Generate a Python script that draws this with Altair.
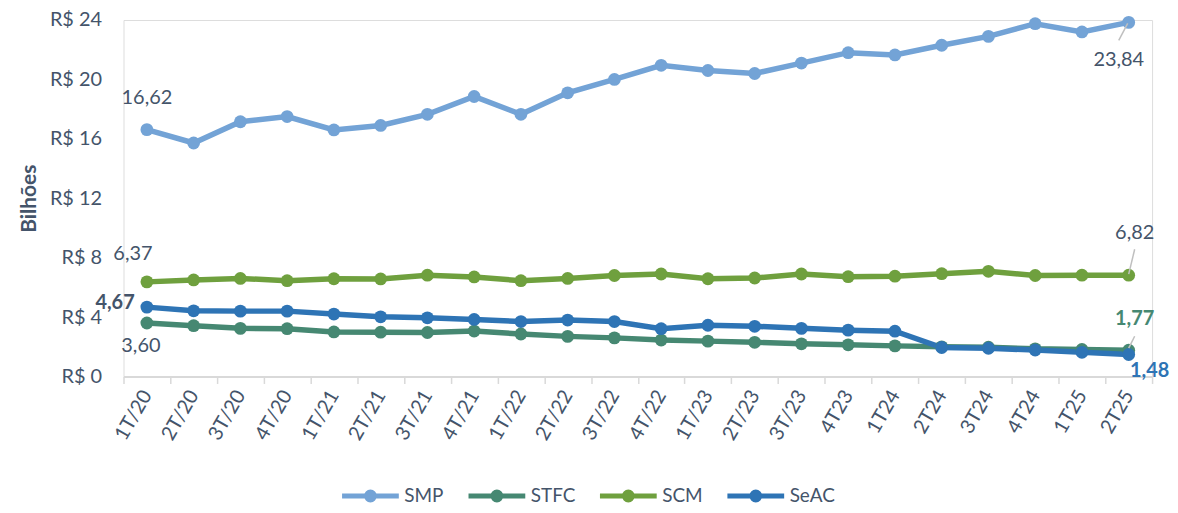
import altair as alt
import pandas as pd

quarters = ["1T/20", "2T/20", "3T/20", "4T/20", "1T/21", "2T/21", "3T/21", "4T/21",
            "1T/22", "2T/22", "3T/22", "4T/22", "1T/23", "2T/23", "3T/23", "4T23",
            "1T24", "2T24", "3T24", "4T24", "1T25", "2T25"]
series = ["SMP", "STFC", "SCM", "SeAC"]
smp = [16.62, 15.72, 17.15, 17.50, 16.60, 16.90, 17.65, 18.85, 17.65, 19.10, 20.00,
       20.95, 20.60, 20.40, 21.10, 21.80, 21.65, 22.30, 22.90, 23.75, 23.20, 23.84]
stfc = [3.60, 3.42, 3.24, 3.22, 3.00, 2.98, 2.96, 3.06, 2.86, 2.70, 2.60,
        2.45, 2.38, 2.30, 2.20, 2.13, 2.06, 2.00, 1.97, 1.86, 1.82, 1.77]
scm = [6.37, 6.50, 6.60, 6.45, 6.58, 6.57, 6.82, 6.70, 6.45, 6.60, 6.80,
       6.90, 6.58, 6.63, 6.90, 6.72, 6.75, 6.92, 7.08, 6.80, 6.82, 6.82]
seac = [4.67, 4.42, 4.40, 4.40, 4.20, 4.02, 3.95, 3.84, 3.70, 3.80, 3.70,
        3.22, 3.45, 3.38, 3.24, 3.12, 3.05, 1.95, 1.90, 1.78, 1.63, 1.48]
colors = ["#73A3D6", "#468872", "#6FA03E", "#2E74B5"]
y_ticks = [0, 4, 8, 12, 16, 20, 24]

# data labels: series, quarter, text
lab_series = ["SMP", "SMP", "SCM", "SCM", "SeAC", "STFC", "STFC", "SeAC"]
lab_quarter = ["1T/20", "2T25", "1T/20", "2T25", "1T/20", "1T/20", "2T25", "2T25"]
lab_text = ["16,62", "23,84", "6,37", "6,82", "4,67", "3,60", "1,77", "1,48"]

TXT = "#44546A"
FONT = "Lato"
values_by_series = dict(zip(series, [smp, stfc, scm, seac]))

rows = []
for s in series:
    for q, v in zip(quarters, values_by_series[s]):
        rows.append({"q": q, "s": s, "v": v})
df = pd.DataFrame(rows)

x = alt.X("q:N", sort=quarters, bandPosition=0.5,
          scale=alt.Scale(type="band", paddingInner=0, paddingOuter=0),
          axis=alt.Axis(title=None, tickBand="extent", labelAngle=-60, labelAlign="right",
                        labelBaseline="middle", labelFontSize=20, labelFont=FONT, labelColor=TXT,
                        labelPadding=8, tickSize=7, tickColor="#D9D9D9", tickWidth=1.5,
                        domainColor="#D9D9D9", domainWidth=2, grid=False, labelOverlap=False))
y = alt.Y("v:Q", scale=alt.Scale(domain=[0, 24], nice=False),
          axis=alt.Axis(values=y_ticks, labelExpr="'R$ ' + datum.value", domain=False,
                        ticks=False, grid=False, labelFontSize=20, labelFont=FONT,
                        labelColor=TXT, labelPadding=22, labelFlush=False,
                        title="Bilhões", titleFontSize=21, titleFont=FONT,
                        titleFontWeight="bold", titleColor=TXT, titlePadding=10))

legend_path = ("M-1,0L1,0"
               "M0.14,0A0.14,0.14,0,1,1,-0.14,0A0.14,0.14,0,1,1,0.14,0"
               "M0.055,0A0.055,0.055,0,1,1,-0.055,0A0.055,0.055,0,1,1,0.055,0")
color = alt.Color("s:N", sort=series, scale=alt.Scale(domain=series, range=colors),
                  legend=alt.Legend(title=None, orient="none", legendX=217, legendY=447,
                                    direction="horizontal", symbolType=legend_path,
                                    symbolSize=3249, symbolStrokeWidth=5, symbolOpacity=1,
                                    labelFontSize=19, labelFont=FONT, labelColor=TXT,
                                    columnPadding=14, labelOffset=3, padding=0))

lines = alt.Chart(df).mark_line(
    strokeWidth=5.5,
    point=alt.OverlayMarkDef(filled=True, size=165, opacity=1)
).encode(x=x, y=y, color=color)

# label styles: dx, dy, weight, colour
styles = [
    (0, -32, "normal", TXT),
    (-10, 38, "normal", TXT),
    (-14, -28, "normal", TXT),
    (6, -42, "normal", TXT),
    (-32, -4, "bold", TXT),
    (-6, 23, "normal", TXT),
    (6, -31, "bold", colors[1]),
    (21, 17, "bold", colors[3]),
]

layers = [lines]

# leader lines (path coordinates in pixels relative to the point)
leaders = [("SMP", "2T25", "M-1,1L-10,18"),
           ("SCM", "2T25", "M0,-1L6,-26"),
           ("STFC", "2T25", "M0,-2L6,-14")]
for s, q, path in leaders:
    d = pd.DataFrame({"q": [q], "v": [values_by_series[s][quarters.index(q)]]})
    layers.append(alt.Chart(d).mark_point(shape=path, size=4, filled=False,
                                          stroke="#BFBFBF", strokeWidth=1.5, opacity=1)
                  .encode(x=x, y=y))

for s, q, t, (dx, dy, w, c) in zip(lab_series, lab_quarter, lab_text, styles):
    d = pd.DataFrame({"q": [q], "v": [values_by_series[s][quarters.index(q)]], "t": [t]})
    layers.append(alt.Chart(d).mark_text(dx=dx, dy=dy, fontSize=20, font=FONT, fontWeight=w,
                                         color=c, align="center", baseline="middle")
                  .encode(x=x, y=y, text="t:N"))

chart = alt.layer(*layers).properties(
    width=1033, height=358,
    autosize=alt.AutoSizeParams(type="none"),
    padding={"left": 116, "top": 11, "right": 18, "bottom": 127},
    background="white",
).configure_view(stroke=None).configure(font=FONT)

chart.save("out.html", embed_options={"renderer": "svg", "actions": False})
